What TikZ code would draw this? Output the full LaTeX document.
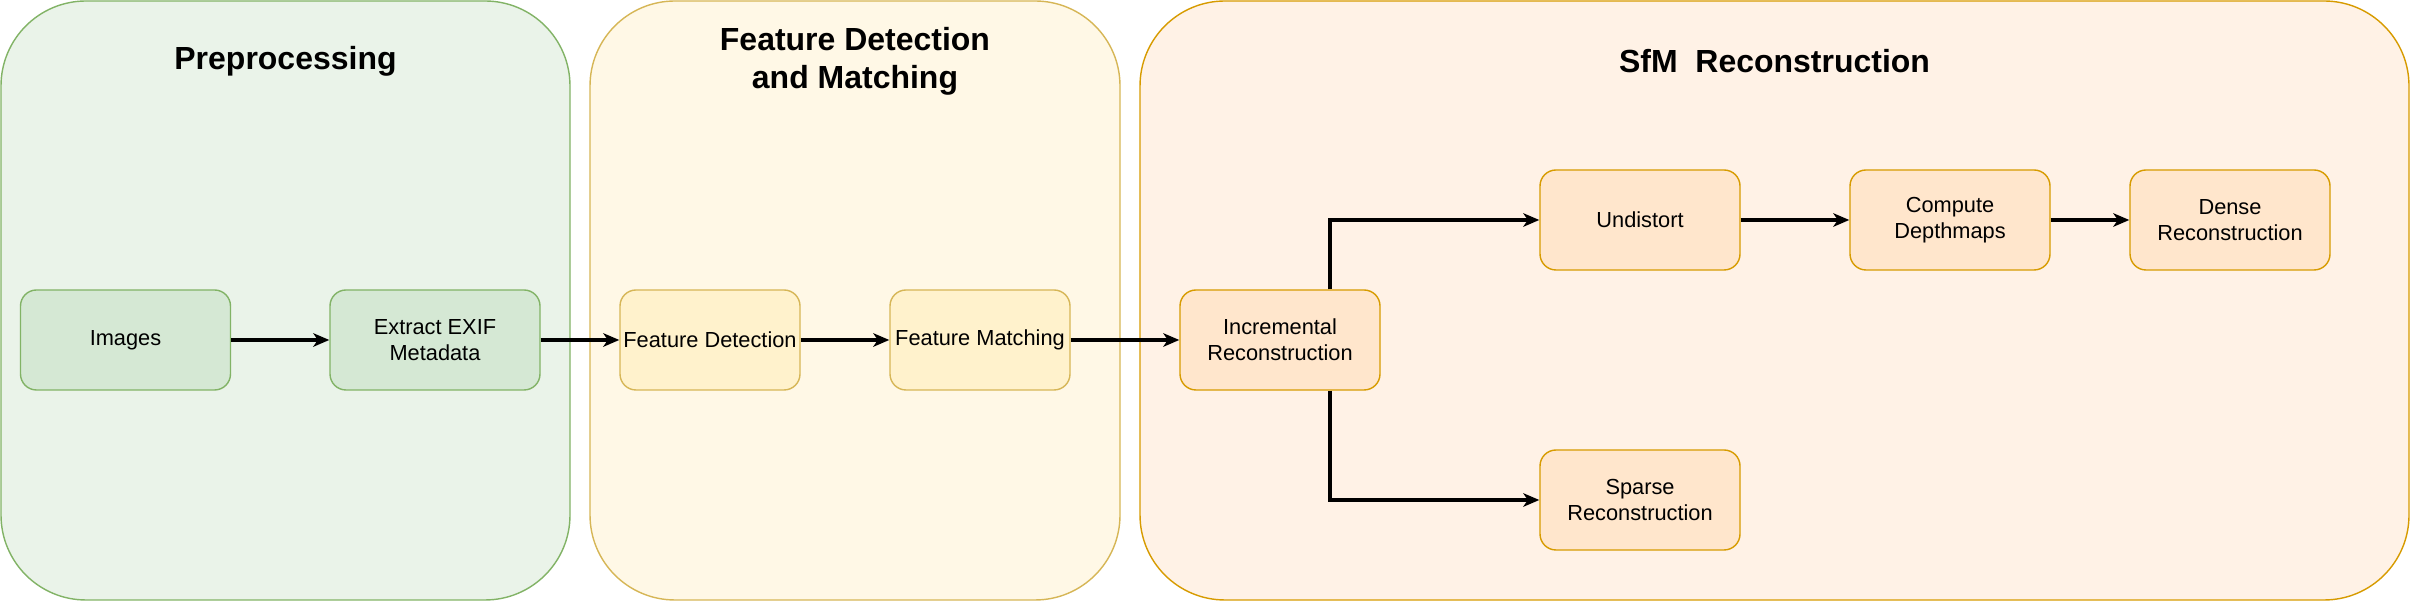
\documentclass[tikz,border=0pt]{standalone}
\usepackage{fontspec}
\setmainfont{Liberation Sans}
\usetikzlibrary{arrows.meta}
\definecolor{gfill}{HTML}{D5E8D4}
\definecolor{gline}{HTML}{82B366}
\definecolor{gcont}{HTML}{EAF3E9}
\definecolor{yfill}{HTML}{FFF2CC}
\definecolor{yline}{HTML}{D6B656}
\definecolor{ycont}{HTML}{FFF8E6}
\definecolor{ofill}{HTML}{FFE6CC}
\definecolor{oline}{HTML}{D79B00}
\definecolor{ocont}{HTML}{FFF2E6}
\begin{document}
\begin{tikzpicture}[x=0.1mm,y=-0.1mm,
  container/.style={rounded corners=8.5mm, line width=0.4pt, minimum height=59.9mm, inner sep=0pt},
  titletext/.style={font=\fontsize{9.1}{10.8}\selectfont\bfseries, align=center, inner sep=0pt},
  stepbox/.style={rounded corners=1.6mm, line width=0.4pt, minimum height=10mm, align=center,
    inner sep=0pt, font=\fontsize{6.2}{7.3}\selectfont},
  gbox/.style={stepbox, draw=gline, fill=gfill, minimum width=21mm},
  ybox/.style={stepbox, draw=yline, fill=yfill, minimum width=18mm},
  obox/.style={stepbox, draw=oline, fill=ofill, minimum width=20mm},
  arr/.style={line width=0.95pt, -{Stealth[length=1.6mm, width=1.35mm, inset=0.45mm]}}]
\useasboundingbox (0,0) rectangle (2411,601);
% containers
\node[container, draw=gline, fill=gcont, minimum width=56.9mm] (pre) at (285.5,300.5) {};
\node[container, draw=yline, fill=ycont, minimum width=53mm] (feat) at (855,300.5) {};
\node[container, draw=oline, fill=ocont, minimum width=126.9mm] (sfm) at (1774.5,300.5) {};
% titles
\node[titletext] (t1) at (285.5,61) {Preprocessing};
\node[titletext] (t2) at (855,61) {Feature Detection\\and Matching};
\node[titletext] (t3) at (1774.5,61) {SfM\ \ Reconstruction};
% steps
\node[gbox] (img) at (125.5,340) {Images};
\node[gbox] (exif) at (435,340) {Extract EXIF\\Metadata};
\node[ybox] (fd) at (710,340) {Feature Detection};
\node[ybox] (fm) at (980,340) {Feature Matching};
\node[obox] (inc) at (1280,340) {Incremental\\Reconstruction};
\node[obox] (und) at (1640,220) {Undistort};
\node[obox] (sp) at (1640,500) {Sparse\\Reconstruction};
\node[obox] (cd) at (1950,220) {Compute\\Depthmaps};
\node[obox] (dr) at (2230,220) {Dense\\Reconstruction};
% connectors
\draw[arr] (img) -- (exif);
\draw[arr] (exif) -- (fd);
\draw[arr] (fd) -- (fm);
\draw[arr] (fm) -- (inc);
\draw[arr] ([xshift=5mm]inc.north) |- (und);
\draw[arr] ([xshift=5mm]inc.south) |- (sp);
\draw[arr] (und) -- (cd);
\draw[arr] (cd) -- (dr);
\end{tikzpicture}
\end{document}
